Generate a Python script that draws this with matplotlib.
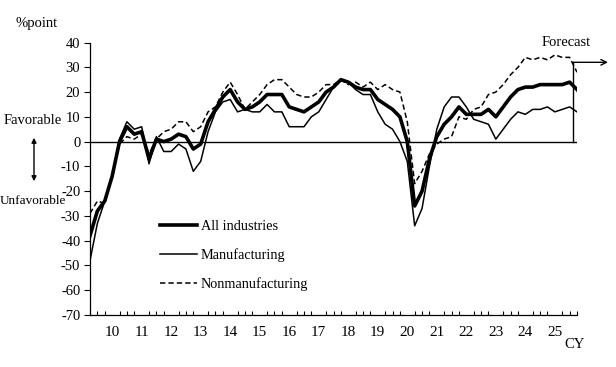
import matplotlib.pyplot as plt

plt.rcParams["font.family"] = ["Liberation Serif", "DejaVu Serif"]
plt.rcParams["font.size"] = 10

# quarterly DI, 2009 Q2 .. 2025 Q4 (last point = forecast)
all_industries = [-38, -28, -24,
                  -14, 0, 6, 3,
                  4, -7, 1, 0,
                  1, 3, 2, -3,
                  -1, 8, 13, 18,
                  21, 16, 13, 14,
                  16, 19, 19, 19,
                  14, 13, 12, 14,
                  16, 20, 22, 25,
                  24, 22, 21, 21,
                  17, 15, 13, 10,
                  0, -26, -20, -7,
                  2, 7, 10, 14,
                  11, 11, 11, 13,
                  10, 14, 18, 21,
                  22, 22, 23, 23,
                  23, 23, 24, 21]
manufacturing = [-48, -33, -24,
                 -14, 1, 8, 5,
                 6, -9, 2, -4,
                 -4, -1, -3, -12,
                 -8, 4, 12, 16,
                 17, 12, 13, 12,
                 12, 15, 12, 12,
                 6, 6, 6, 10,
                 12, 17, 22, 25,
                 24, 21, 19, 19,
                 12, 7, 5, 0,
                 -8, -34, -27, -10,
                 5, 14, 18, 18,
                 14, 9, 8, 7,
                 1, 5, 9, 12,
                 11, 13, 13, 14,
                 12, 13, 14, 12]
nonmanufacturing = [-29, -24, -25,
                    -14, -1, 2, 1,
                    3, -5, 1, 4,
                    5, 8, 8, 4,
                    6, 12, 14, 20,
                    24, 19, 13, 16,
                    19, 23, 25, 25,
                    22, 19, 18, 18,
                    20, 23, 23, 25,
                    23, 24, 22, 24,
                    21, 23, 21, 20,
                    8, -17, -12, -5,
                    -1, 1, 2, 10,
                    9, 13, 14, 19,
                    20, 23, 27, 30,
                    34, 33, 34, 33,
                    35, 34, 34, 28]
year_labels = [str(y) for y in range(10, 26)]
y_ticks = list(range(-70, 41, 10))

x = list(range(len(all_industries)))

fig = plt.figure(figsize=(6.16, 3.67), dpi=100)
ax = fig.add_axes([90 / 616, 1 - 315 / 367, 487 / 616, 272.5 / 367])

ax.plot(x, all_industries, color="black", lw=2.6, label="All industries", zorder=4)
ax.plot(x, manufacturing, color="black", lw=1.1, label="Manufacturing", zorder=3)
ax.plot(x, nonmanufacturing, color="black", lw=1.1, ls=(0, (3.5, 2)),
        label="Nonmanufacturing", zorder=3)
ax.axhline(0, color="black", lw=1.0, zorder=2)

ax.set_xlim(0, len(x) - 1)
ax.set_ylim(-70, 40)
ax.spines[["top", "right"]].set_visible(False)
ax.spines[["left", "bottom"]].set_linewidth(0.9)

ax.set_yticks(y_ticks)
ax.set_yticklabels([str(v) for v in y_ticks])
ax.tick_params(axis="y", direction="out", length=4, width=0.8, pad=3, labelsize=10.5)

ax.set_xticks(range(3, 3 + 4 * len(year_labels), 4))
ax.set_xticklabels(year_labels)
ax.set_xticks(x, minor=True)
ax.tick_params(axis="x", which="major", length=0, pad=8, labelsize=11)
ax.tick_params(axis="x", which="minor", direction="in", length=3, width=0.8)

# forecast marker
fx = len(x) - 1.5
ax.plot([fx, fx], [0, 32], color="black", lw=1.0, zorder=5)
ax.annotate("", xy=(70.2, 32), xytext=(fx, 32), annotation_clip=False,
            arrowprops=dict(arrowstyle="->", color="black", lw=1.0,
                            shrinkA=0, shrinkB=0))
ax.text(fx - 1, 37.5, "Forecast", ha="center", va="bottom", fontsize=10.5)

leg = ax.legend(loc="upper left", bbox_to_anchor=(160 / 616, 1 - 220 / 367),
                bbox_transform=fig.transFigure, frameon=False, fontsize=10.3,
                handlelength=2.6, handletextpad=0.25, labelspacing=1.05,
                borderpad=0, borderaxespad=0)

fig.text(15 / 616, 1 - 24 / 367, "%point", ha="left", va="center", fontsize=10.5)
fig.text(4 / 616, 1 - 121 / 367, "Favorable", ha="left", va="center", fontsize=10.5)
fig.text(0 / 616, 1 - 201 / 367, "Unfavorable", ha="left", va="center", fontsize=9.5)
fig.text(564 / 616, 1 - 345 / 367, "CY", ha="left", va="center", fontsize=10.5)
fig.add_artist(plt.matplotlib.patches.FancyArrowPatch(
    (34 / 616, 1 - 135 / 367), (34 / 616, 1 - 184 / 367),
    transform=fig.transFigure, arrowstyle="<|-|>", mutation_scale=7,
    color="black", lw=1.0))

fig.savefig("out.png", dpi=100)
